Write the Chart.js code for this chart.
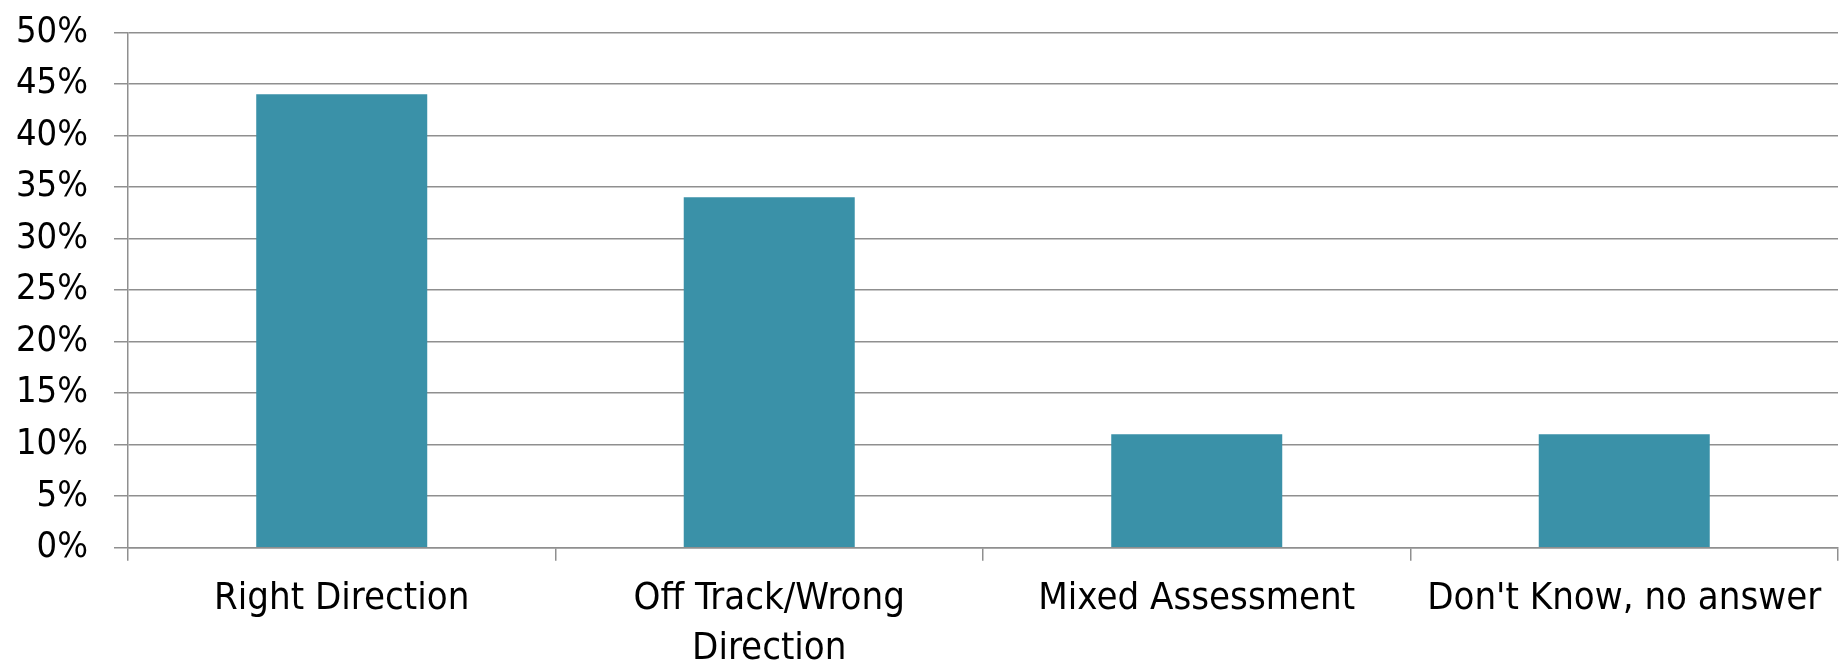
<!DOCTYPE html>
<html>
<head>
<meta charset="utf-8">
<script src="https://cdn.jsdelivr.net/npm/chart.js@4"></script>
<style>
  html, body { margin: 0; padding: 0; background: #fff; }
  #wrap { width: 1847px; height: 672px; }
</style>
</head>
<body>
<div id="wrap"><canvas id="chart"></canvas></div>
<script>
// data
const categories = ["Right Direction", ["Off Track/Wrong", "Direction"], "Mixed Assessment", "Don't Know, no answer"];
const shares = [44, 34, 11, 11];
const yTicks = [0, 50, 5]; // min, max, step

const barColor = "#3a91a8";
const gridColor = "#8f8f8f";
const fontFamily = "'DejaVu Sans Condensed', 'DejaVu Sans', sans-serif";

var ctx = document.querySelector("#chart");
new Chart(ctx, {
  type: "bar",
  data: {
    labels: categories,
    datasets: [
      {
        data: shares,
        backgroundColor: barColor,
        borderWidth: 0,
        barPercentage: 0.4,
        categoryPercentage: 1.0,
      },
    ],
  },
  options: {
    responsive: true,
    maintainAspectRatio: false,
    animation: false,
    layout: {
      padding: { top: 0, right: 9, left: -10, bottom: -15 },
    },
    plugins: {
      legend: { display: false },
      tooltip: { enabled: false },
    },
    scales: {
      x: {
        grid: {
          offset: true,
          drawOnChartArea: false,
          drawTicks: true,
          tickLength: 13,
          color: gridColor,
          lineWidth: 1.5,
        },
        border: { color: gridColor, width: 1.5 },
        ticks: {
          color: "#000",
          padding: 13,
          maxRotation: 0,
          autoSkip: false,
          font: { family: fontFamily, size: 38, lineHeight: 1.32 },
        },
      },
      y: {
        min: yTicks[0],
        max: yTicks[1],
        grid: {
          color: gridColor,
          lineWidth: 1.5,
          tickLength: 14,
        },
        border: { color: gridColor, width: 1.5 },
        ticks: {
          stepSize: yTicks[2],
          autoSkip: false,
          color: "#000",
          padding: 26,
          // small line height keeps the top label from pushing the plot down
          font: { family: fontFamily, size: 36, lineHeight: 0.35 },
          callback: v => v + "%",
        },
      },
    },
  },
});
</script>
</body>
</html>
